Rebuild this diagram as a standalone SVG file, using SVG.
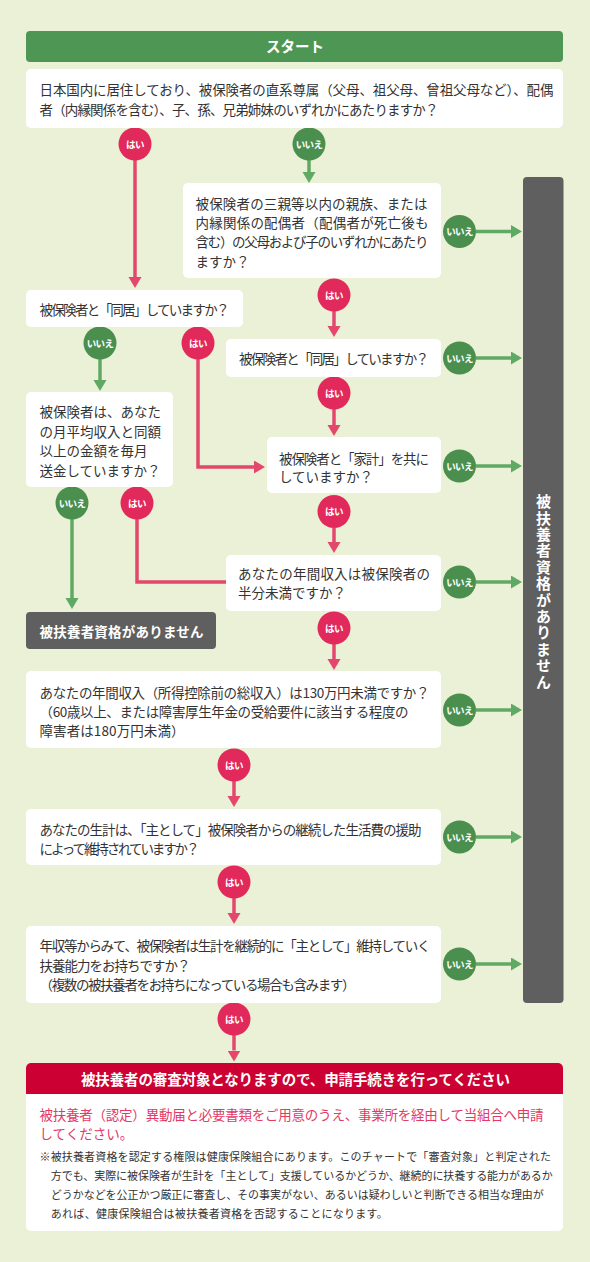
<svg xmlns="http://www.w3.org/2000/svg" width="590" height="1262" viewBox="0 0 590 1262">
<style>
.t{font-family:"Noto Sans CJK JP","Noto Sans",sans-serif;font-size:13.5px;fill:#333}
.w{font-family:"Noto Sans CJK JP","Noto Sans",sans-serif;font-weight:bold;fill:#fff}
.box{fill:#fff}
.ng{fill:#5f5f5f}
.yes{fill:#e2295b}
.no{fill:#4b8f4f}
.lbl{font-family:"Noto Sans CJK JP","Noto Sans",sans-serif;font-size:9.5px;font-weight:bold;fill:#fff;text-anchor:middle;letter-spacing:-0.6px}
.rl{stroke:#e4476d;stroke-width:3.5;fill:none}
.gl{stroke:#60a965;stroke-width:3.5;fill:none}
.rl.a{marker-end:url(#ar)}
.gl.a{marker-end:url(#ag)}
.note{font-family:"Noto Sans CJK JP","Noto Sans",sans-serif;font-size:11px;fill:#333}
.red{font-family:"Noto Sans CJK JP","Noto Sans",sans-serif;font-size:13.5px;fill:#e23a64}
.vert{writing-mode:vertical-rl;font-size:15px;letter-spacing:1.4px}
</style>
<defs>
<marker id="ar" markerUnits="userSpaceOnUse" markerWidth="12" markerHeight="14" refX="0" refY="6.5" orient="auto"><path d="M0,0 L11,6.5 L0,13z" fill="#e4476d"/></marker>
<marker id="ag" markerUnits="userSpaceOnUse" markerWidth="12" markerHeight="14" refX="0" refY="6.5" orient="auto"><path d="M0,0 L11,6.5 L0,13z" fill="#60a965"/></marker>
</defs>
<rect x="0" y="0" width="590" height="1262" fill="#ebf1d6"/>

<g id="connectors">
<path class="rl a" d="M135,160 V277"/>
<path class="gl a" d="M309,160 V172"/>
<path class="gl a" d="M476,231.5 H511"/>
<path class="rl a" d="M334,311 V326"/>
<path class="gl a" d="M100,359 V380"/>
<path class="rl a" d="M198,359 V467 H254"/>
<path class="gl a" d="M476,358 H511"/>
<path class="rl a" d="M334,409 V425"/>
<path class="gl a" d="M476,466 H511"/>
<path class="rl a" d="M334,528 V542"/>
<path class="gl a" d="M72,519 V598"/>
<path class="rl" d="M137,519 V582 H227"/>
<path class="gl a" d="M476,582 H511"/>
<path class="rl a" d="M334,644 V659"/>
<path class="gl a" d="M476,710 H511"/>
<path class="rl a" d="M234,781 V796"/>
<path class="gl a" d="M476,837 H511"/>
<path class="rl a" d="M234,898 V913"/>
<path class="gl a" d="M476,964 H511"/>
<path class="rl a" d="M234,1035 V1050.5"/>
</g>

<g id="labels">
<g><circle class="yes" cx="135" cy="144" r="16.5"/><text class="lbl" x="135" y="147.6">はい</text></g>
<g><circle class="no" cx="309" cy="144" r="16.5"/><text class="lbl" x="309" y="147.6">いいえ</text></g>
<g><circle class="no" cx="459.5" cy="231.5" r="16.5"/><text class="lbl" x="459.5" y="235.1">いいえ</text></g>
<g><circle class="yes" cx="334" cy="295" r="16.5"/><text class="lbl" x="334" y="298.6">はい</text></g>
<g><circle class="no" cx="100" cy="343" r="16.5"/><text class="lbl" x="100" y="346.6">いいえ</text></g>
<g><circle class="yes" cx="198" cy="343" r="16.5"/><text class="lbl" x="198" y="346.6">はい</text></g>
<g><circle class="no" cx="459.5" cy="358" r="16.5"/><text class="lbl" x="459.5" y="361.6">いいえ</text></g>
<g><circle class="yes" cx="334" cy="393" r="16.5"/><text class="lbl" x="334" y="396.6">はい</text></g>
<g><circle class="no" cx="459.5" cy="466" r="16.5"/><text class="lbl" x="459.5" y="469.6">いいえ</text></g>
<g><circle class="yes" cx="334" cy="511.5" r="16.5"/><text class="lbl" x="334" y="515.1">はい</text></g>
<g><circle class="no" cx="72" cy="503" r="16.5"/><text class="lbl" x="72" y="506.6">いいえ</text></g>
<g><circle class="yes" cx="137" cy="503" r="16.5"/><text class="lbl" x="137" y="506.6">はい</text></g>
<g><circle class="no" cx="459.5" cy="582" r="16.5"/><text class="lbl" x="459.5" y="585.6">いいえ</text></g>
<g><circle class="yes" cx="334" cy="628" r="16.5"/><text class="lbl" x="334" y="631.6">はい</text></g>
<g><circle class="no" cx="459.5" cy="710" r="16.5"/><text class="lbl" x="459.5" y="713.6">いいえ</text></g>
<g><circle class="yes" cx="234" cy="765" r="16.5"/><text class="lbl" x="234" y="768.6">はい</text></g>
<g><circle class="no" cx="459.5" cy="837" r="16.5"/><text class="lbl" x="459.5" y="840.6">いいえ</text></g>
<g><circle class="yes" cx="234" cy="882" r="16.5"/><text class="lbl" x="234" y="885.6">はい</text></g>
<g><circle class="no" cx="459.5" cy="964" r="16.5"/><text class="lbl" x="459.5" y="967.6">いいえ</text></g>
<g><circle class="yes" cx="234" cy="1019" r="16.5"/><text class="lbl" x="234" y="1022.6">はい</text></g>
</g>

<g id="start">
<rect x="26" y="31" width="537" height="31" rx="4" fill="#4e9654"/>
<text class="w" x="295" y="52" font-size="14.5" text-anchor="middle">スタート</text>
</g>

<g id="q1">
<rect class="box" x="26" y="69" width="537" height="59" rx="5"/>
<text class="t" x="39.5" y="95" textLength="514" lengthAdjust="spacing">日本国内に居住しており、被保険者の直系尊属（父母、祖父母、曾祖父母など）、配偶</text>
<text class="t" x="39.5" y="114.5" textLength="399" lengthAdjust="spacing">者（内縁関係を含む）、子、孫、兄弟姉妹のいずれかにあたりますか？</text>
</g>

<g id="q2">
<rect class="box" x="183" y="183" width="258" height="95" rx="5"/>
<text class="t" x="195.5" y="208.5" textLength="232" lengthAdjust="spacing">被保険者の三親等以内の親族、または</text>
<text class="t" x="195.5" y="228" textLength="233" lengthAdjust="spacing">内縁関係の配偶者（配偶者が死亡後も</text>
<text class="t" x="195.5" y="247" textLength="233" lengthAdjust="spacing">含む）の父母および子のいずれかにあたり</text>
<text class="t" x="195.5" y="266.5">ますか？</text>
</g>

<g id="q3a">
<rect class="box" x="26" y="290" width="217" height="37" rx="5"/>
<text class="t" x="39.5" y="315" textLength="190" lengthAdjust="spacing">被保険者と「同居」していますか？</text>
</g>

<g id="q3b">
<rect class="box" x="226" y="339" width="215" height="38" rx="5"/>
<text class="t" x="239" y="363.5" textLength="190" lengthAdjust="spacing">被保険者と「同居」していますか？</text>
</g>

<g id="q4">
<rect class="box" x="26" y="392" width="147" height="95" rx="5"/>
<text class="t" x="39.5" y="417">被保険者は、あなた</text>
<text class="t" x="39.5" y="436.5">の月平均収入と同額</text>
<text class="t" x="39.5" y="456">以上の金額を毎月</text>
<text class="t" x="39.5" y="475.5">送金していますか？</text>
</g>

<g id="q5">
<rect class="box" x="267" y="437" width="174" height="56" rx="5"/>
<text class="t" x="279" y="463.5" textLength="150" lengthAdjust="spacing">被保険者と「家計」を共に</text>
<text class="t" x="279" y="482">していますか？</text>
</g>

<g id="q6">
<rect class="box" x="226" y="555" width="215" height="56" rx="5"/>
<text class="t" x="238" y="578.5" textLength="192" lengthAdjust="spacing">あなたの年間収入は被保険者の</text>
<text class="t" x="238" y="598">半分未満ですか？</text>
</g>

<g id="ng-left">
<rect class="ng" x="26" y="612" width="190" height="37" rx="4"/>
<text class="w" x="39.5" y="636.5" font-size="13.5" textLength="164" lengthAdjust="spacing">被扶養者資格がありません</text>
</g>

<g id="q7">
<rect class="box" x="26" y="671" width="415" height="77" rx="5"/>
<text class="t" x="39.5" y="698" textLength="390" lengthAdjust="spacing">あなたの年間収入（所得控除前の総収入）は130万円未満ですか？</text>
<text class="t" x="39.5" y="717" textLength="369" lengthAdjust="spacing">（60歳以上、または障害厚生年金の受給要件に該当する程度の</text>
<text class="t" x="39.5" y="736" textLength="145" lengthAdjust="spacing">障害者は180万円未満）</text>
</g>

<g id="q8">
<rect class="box" x="26" y="809" width="415" height="56" rx="5"/>
<text class="t" x="39.5" y="835" textLength="382" lengthAdjust="spacing">あなたの生計は、「主として」被保険者からの継続した生活費の援助</text>
<text class="t" x="39.5" y="853.5" textLength="160" lengthAdjust="spacing">によって維持されていますか？</text>
</g>

<g id="q9">
<rect class="box" x="26" y="926" width="415" height="77" rx="5"/>
<text class="t" x="39.5" y="951" textLength="391" lengthAdjust="spacing">年収等からみて、被保険者は生計を継続的に「主として」維持していく</text>
<text class="t" x="39.5" y="970.5" textLength="151" lengthAdjust="spacing">扶養能力をお持ちですか？</text>
<text class="t" x="39.5" y="990" textLength="316" lengthAdjust="spacing">（複数の被扶養者をお持ちになっている場合も含みます）</text>
</g>

<g id="ng-bar">
<rect class="ng" x="523" y="177" width="40.5" height="826" rx="4"/>
<text class="w vert" x="543.5" y="494">被扶養者資格がありません</text>
</g>

<g id="result">
<rect class="box" x="26" y="1063" width="537" height="168" rx="5"/>
<path d="M26,1094 V1068 A5,5 0 0 1 31,1063 H558 A5,5 0 0 1 563,1068 V1094 Z" fill="#cc0033"/>
<text class="w" x="295.5" y="1084.5" font-size="14.5" text-anchor="middle" textLength="429" lengthAdjust="spacing">被扶養者の審査対象となりますので、申請手続きを行ってください</text>
<text class="red" x="39.5" y="1120" textLength="504" lengthAdjust="spacing">被扶養者（認定）異動届と必要書類をご用意のうえ、事業所を経由して当組合へ申請</text>
<text class="red" x="39.5" y="1138.5">してください。</text>
<text class="note" x="39.5" y="1161" textLength="511.5" lengthAdjust="spacing">※被扶養者資格を認定する権限は健康保険組合にあります。このチャートで「審査対象」と判定された</text>
<text class="note" x="50.8" y="1180" textLength="502" lengthAdjust="spacing">方でも、実際に被保険者が生計を「主として」支援しているかどうか、継続的に扶養する能力があるか</text>
<text class="note" x="50.8" y="1198.5" textLength="493" lengthAdjust="spacing">どうかなどを公正かつ厳正に審査し、その事実がない、あるいは疑わしいと判断できる相当な理由が</text>
<text class="note" x="50.8" y="1217.5" textLength="337" lengthAdjust="spacing">あれば、健康保険組合は被扶養者資格を否認することになります。</text>
</g>
</svg>
